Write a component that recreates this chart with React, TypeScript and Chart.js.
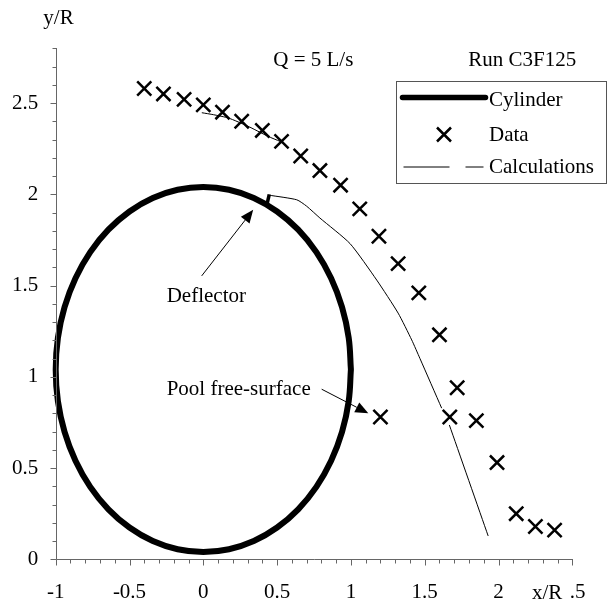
import React, { useEffect, useRef } from "react";
import { Chart, registerables } from "chart.js";
Chart.register(...registerables);

// Cylinder outline (x/R, y/R)
const cylinderX = [1, 0.985, 0.94, 0.866, 0.766, 0.643, 0.5, 0.342, 0.174, 0, -0.174, -0.342, -0.5, -0.643, -0.766, -0.866, -0.94, -0.985, -1, -0.985, -0.94, -0.866, -0.766, -0.643, -0.5, -0.342, -0.174, 0, 0.174, 0.342, 0.5, 0.643, 0.766, 0.866, 0.94, 0.985, 1];
const cylinderY = [1.04, 1.214, 1.382, 1.54, 1.683, 1.806, 1.906, 1.98, 2.025, 2.04, 2.025, 1.98, 1.906, 1.806, 1.683, 1.54, 1.382, 1.214, 1.04, 0.866, 0.698, 0.54, 0.397, 0.274, 0.174, 0.1, 0.055, 0.04, 0.055, 0.1, 0.174, 0.274, 0.397, 0.54, 0.698, 0.866, 1.04];

// Deflector
const deflectorX = [0.43, 0.447];
const deflectorY = [1.94, 2.0];

// Measured data
const dataX = [-0.4, -0.27, -0.13, 0, 0.13, 0.26, 0.4, 0.53, 0.66, 0.79, 0.93, 1.06, 1.19, 1.32, 1.46, 1.6, 1.72, 1.2, 1.67, 1.85, 1.99, 2.12, 2.25, 2.38];
const dataY = [2.58, 2.55, 2.52, 2.49, 2.45, 2.4, 2.35, 2.29, 2.21, 2.13, 2.05, 1.92, 1.77, 1.62, 1.46, 1.23, 0.94, 0.78, 0.78, 0.76, 0.53, 0.25, 0.18, 0.16];

// Calculations (null = gap)
const calcX = [-0.01, 0.07, 0.17, 0.3, 0.44, 0.52, null, 0.447, 0.633, 0.7, 0.79, 0.994, 1.175, 1.32, 1.412, 1.468, 1.615, null, 1.667, 1.93];
const calcY = [2.447, 2.436, 2.418, 2.374, 2.317, 2.29, null, 1.995, 1.97, 1.935, 1.87, 1.73, 1.53, 1.349, 1.202, 1.1, 0.828, null, 0.736, 0.128];

const xMajorTicks = [-1, -0.5, 0, 0.5, 1, 1.5, 2, 2.5];
const yMajorTicks = [0, 0.5, 1, 1.5, 2, 2.5];
const X_MIN = -1, X_MAX = 2.5, Y_MIN = 0, Y_MAX = 2.8, MINOR = 0.1;

const FONT = "'Liberation Serif', 'Times New Roman', serif";
const FS = 21;
const AXIS_COLOR = "#666";

function pts(xs: (number | null)[], ys: (number | null)[]) {
  return xs.map((x, i) => ({ x: x as any, y: ys[i] as any }));
}

function arrow(ctx: CanvasRenderingContext2D, x1: number, y1: number, x2: number, y2: number) {
  const ang = Math.atan2(y2 - y1, x2 - x1);
  const L = 13, W = 5.5;
  ctx.beginPath();
  ctx.moveTo(x1, y1);
  ctx.lineTo(x2 - L * Math.cos(ang), y2 - L * Math.sin(ang));
  ctx.strokeStyle = "#000";
  ctx.lineWidth = 1;
  ctx.stroke();
  ctx.beginPath();
  ctx.moveTo(x2, y2);
  ctx.lineTo(x2 - L * Math.cos(ang) + W * Math.sin(ang), y2 - L * Math.sin(ang) - W * Math.cos(ang));
  ctx.lineTo(x2 - L * Math.cos(ang) - W * Math.sin(ang), y2 - L * Math.sin(ang) + W * Math.cos(ang));
  ctx.closePath();
  ctx.fillStyle = "#000";
  ctx.fill();
}

const decorPlugin = {
  id: "decor",
  afterDraw(chart: any) {
    const ctx: CanvasRenderingContext2D = chart.ctx;
    const xs = chart.scales.x, ys = chart.scales.y;
    const px = (v: number) => xs.getPixelForValue(v);
    const py = (v: number) => ys.getPixelForValue(v);
    ctx.save();
    // axes
    ctx.strokeStyle = AXIS_COLOR;
    ctx.lineWidth = 1;
    const x0 = Math.round(px(X_MIN)) + 0.5;
    const y0 = Math.round(py(Y_MIN)) + 0.5;
    ctx.beginPath();
    ctx.moveTo(x0, Math.round(py(Y_MAX)));
    ctx.lineTo(x0, y0);
    ctx.lineTo(Math.round(px(X_MAX)) + 1, y0);
    ctx.stroke();
    const nx = Math.round((X_MAX - X_MIN) / MINOR);
    for (let i = 0; i <= nx; i++) {
      const v = X_MIN + i * MINOR;
      const major = Math.abs(v * 2 - Math.round(v * 2)) < 1e-6;
      const xp = Math.round(px(v)) + 0.5;
      ctx.beginPath();
      ctx.moveTo(xp, y0);
      ctx.lineTo(xp, y0 + (major ? 6 : 4));
      ctx.stroke();
    }
    const ny = Math.round((Y_MAX - Y_MIN) / MINOR);
    for (let i = 0; i <= ny; i++) {
      const v = Y_MIN + i * MINOR;
      const major = Math.abs(v * 2 - Math.round(v * 2)) < 1e-6;
      const yp = Math.round(py(v)) + 0.5;
      ctx.beginPath();
      ctx.moveTo(x0, yp);
      ctx.lineTo(x0 - (major ? 6 : 4), yp);
      ctx.stroke();
    }

    ctx.fillStyle = "#000";
    ctx.font = `${FS}px ${FONT}`;
    ctx.textBaseline = "alphabetic";
    // axis titles
    ctx.textAlign = "center";
    ctx.fillText("y/R", x0 + 2, 24);
    ctx.fillStyle = "#fff";
    ctx.fillRect(529, 578, 40.5, 26);
    ctx.fillStyle = "#000";
    ctx.textAlign = "left";
    ctx.fillText("x/R", 532, 599);

    // in-plot texts
    ctx.fillText("Q = 5 L/s", px(0.474), py(2.704));
    ctx.fillText("Run C3F125", px(1.795), py(2.704));
    ctx.fillText("Deflector", px(-0.248), py(1.412));
    ctx.fillText("Pool free-surface", px(-0.248), py(0.901));
    arrow(ctx, px(-0.011), py(1.553), px(0.338), py(1.915));
    arrow(ctx, px(0.802), py(0.932), px(1.118), py(0.8));

    // legend box
    const bl = Math.round(px(1.306)) + 0.5, br = Math.round(px(2.728)) + 0.5;
    const bt = Math.round(py(2.622)) + 0.5, bb = Math.round(py(2.063)) + 0.5;
    ctx.fillStyle = "#fff";
    ctx.fillRect(bl, bt, br - bl, bb - bt);
    ctx.strokeStyle = "#555";
    ctx.lineWidth = 1;
    ctx.strokeRect(bl, bt, br - bl, bb - bt);
    const textX = bl + 92.5;
    // Cylinder
    ctx.strokeStyle = "#000";
    ctx.lineWidth = 5.5;
    ctx.lineCap = "round";
    ctx.beginPath();
    ctx.moveTo(bl + 6, bt + 16);
    ctx.lineTo(bl + 89, bt + 16);
    ctx.stroke();
    ctx.lineCap = "butt";
    // Data marker
    ctx.lineWidth = 2.5;
    const mx = bl + 47.5, my = bt + 53, r = 7;
    ctx.beginPath();
    ctx.moveTo(mx - r, my - r); ctx.lineTo(mx + r, my + r);
    ctx.moveTo(mx - r, my + r); ctx.lineTo(mx + r, my - r);
    ctx.stroke();
    // Calculations
    ctx.lineWidth = 1;
    ctx.beginPath();
    ctx.moveTo(bl + 7, bt + 85.5); ctx.lineTo(bl + 53, bt + 85.5);
    ctx.moveTo(bl + 69, bt + 85.5); ctx.lineTo(bl + 87, bt + 85.5);
    ctx.stroke();
    ctx.fillStyle = "#000";
    ctx.textAlign = "left";
    ctx.fillText("Cylinder", textX, bt + 24.5);
    ctx.fillText("Data", textX, bt + 59.5);
    ctx.fillText("Calculations", textX, bt + 91.5);
    ctx.restore();
  },
};

export default function App() {
  const ref = useRef<HTMLCanvasElement | null>(null);
  useEffect(() => {
    if (!ref.current) return;
    const chart = new Chart(ref.current, {
      type: "scatter",
      data: {
        datasets: [
          {
            label: "Cylinder",
            data: pts(cylinderX, cylinderY),
            showLine: true,
            borderColor: "#000",
            borderWidth: 6,
            pointRadius: 0,
            tension: 0.4,
            borderJoinStyle: "round",
            borderCapStyle: "round",
          } as any,
          {
            label: "Deflector",
            data: pts(deflectorX, deflectorY),
            showLine: true,
            borderColor: "#000",
            borderWidth: 3.5,
            pointRadius: 0,
          } as any,
          {
            label: "Calculations",
            data: pts(calcX, calcY),
            showLine: true,
            spanGaps: false,
            borderColor: "#000",
            borderWidth: 1,
            pointRadius: 0,
            tension: 0.2,
          } as any,
          {
            label: "Data",
            data: pts(dataX, dataY),
            showLine: false,
            pointStyle: "crossRot",
            pointRadius: 10,
            pointBorderWidth: 2.5,
            pointBorderColor: "#000",
            pointBackgroundColor: "#000",
          } as any,
        ],
      },
      options: {
        animation: false,
        responsive: false,
        maintainAspectRatio: false,
        clip: false as any,
        layout: { padding: { left: 0, right: 39.7, top: 48.3, bottom: 0 } },
        plugins: { legend: { display: false }, tooltip: { enabled: false } },
        events: [],
        scales: {
          x: {
            type: "linear",
            min: X_MIN,
            max: X_MAX,
            grid: { display: false, drawTicks: false },
            border: { display: false },
            afterBuildTicks: (s: any) => { s.ticks = xMajorTicks.map((v) => ({ value: v })); },
            afterFit: (s: any) => { s.height = 46.7; },
            ticks: {
              autoSkip: false,
              maxRotation: 0,
              padding: 21,
              color: "#000",
              font: { family: FONT, size: FS },
              callback: (v: any) => String(v),
            },
          },
          y: {
            type: "linear",
            min: Y_MIN,
            max: Y_MAX,
            grid: { display: false, drawTicks: false },
            border: { display: false },
            afterBuildTicks: (s: any) => { s.ticks = yMajorTicks.map((v) => ({ value: v })); },
            afterFit: (s: any) => { s.width = 55.7; },
            ticks: {
              autoSkip: false,
              padding: 17.4,
              color: "#000",
              font: { family: FONT, size: FS },
              callback: (v: any) => String(v),
            },
          },
        },
      },
      plugins: [decorPlugin],
    });
    return () => chart.destroy();
  }, []);
  return (
    <div style={{ position: "fixed", left: 0, top: 0, width: 612, height: 606, background: "#fff" }}>
      <canvas ref={ref} width={612} height={606} style={{ display: "block" }} />
    </div>
  );
}
